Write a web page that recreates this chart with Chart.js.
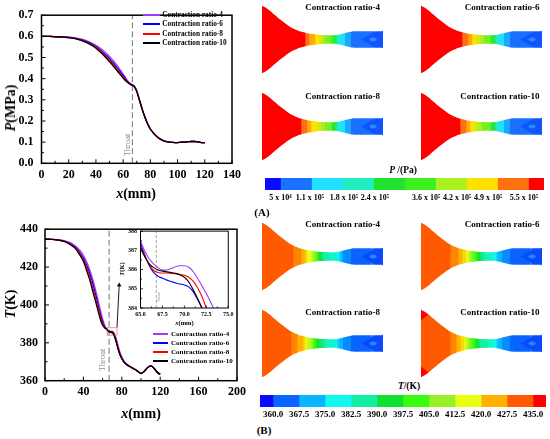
<!DOCTYPE html>
<html><head><meta charset="utf-8">
<script src="https://cdn.jsdelivr.net/npm/chart.js@4.4.0/dist/chart.umd.min.js"></script>
<style>
html,body{margin:0;padding:0;background:#fff;}
#stage{position:relative;width:550px;height:439px;overflow:hidden;background:#fff;font-family:'Liberation Serif','Times New Roman',serif;font-weight:bold;color:#000;}
#stage canvas{position:absolute;}
.t{position:absolute;white-space:nowrap;line-height:1;}
</style></head><body><div id="stage"></div>
<script>
// ---------------- data ----------------
const SERIES_LABELS = ['Contraction ratio-4','Contraction ratio-6','Contraction ratio-8','Contraction ratio-10'];
const SERIES_COLORS = ['#9a3ef5','#0000ff','#ff0000','#000000'];
const THROAT_X = 66.8;

const X_MM = [0,2,4,6,8,10,12,14,16,18,20,22,24,26,28,30,32,34,36,38,40,42,44,46,48,50,52,54,56,58,60,62,64,66,68,70,72,74,76,78,80,82,84,86,88,90,92,94,96,98,100,102,104,106,108,110,112,114,116,118,120];

const P_CR4 = [0.600,0.600,0.600,0.600,0.600,0.599,0.599,0.598,0.598,0.597,
  0.596,0.595,0.593,0.591,0.589,0.586,0.582,0.577,0.572,0.565,
  0.558,0.550,0.540,0.530,0.518,0.505,0.491,0.476,0.459,0.441,
  0.422,0.402,0.385,0.373,0.365,0.342,0.300,0.257,0.220,0.188,
  0.162,0.145,0.131,0.120,0.112,0.106,0.102,0.100,0.099,0.098,
  0.098,0.099,0.100,0.101,0.102,0.103,0.103,0.102,0.100,0.098,0.097];
const P_CR6 = [0.600,0.600,0.600,0.600,0.599,0.599,0.598,0.598,0.597,0.596,
  0.595,0.594,0.592,0.589,0.586,0.583,0.578,0.573,0.567,0.560,
  0.552,0.543,0.532,0.520,0.508,0.494,0.480,0.465,0.449,0.432,
  0.415,0.398,0.382,0.372,0.364,0.341,0.299,0.256,0.219,0.187,
  0.162,0.145,0.131,0.120,0.112,0.106,0.102,0.100,0.099,0.098,
  0.098,0.099,0.100,0.101,0.102,0.103,0.103,0.102,0.100,0.098,0.097];
const P_CR8 = [0.600,0.600,0.600,0.600,0.599,0.598,0.598,0.597,0.596,0.595,
  0.594,0.593,0.591,0.588,0.585,0.581,0.576,0.571,0.564,0.557,
  0.548,0.538,0.527,0.514,0.501,0.487,0.472,0.457,0.441,0.425,
  0.409,0.394,0.380,0.371,0.364,0.340,0.298,0.255,0.218,0.186,
  0.162,0.145,0.131,0.120,0.112,0.106,0.102,0.100,0.099,0.098,
  0.098,0.099,0.100,0.101,0.102,0.103,0.103,0.102,0.100,0.098,0.097];
const P_CR10 = [0.600,0.600,0.600,0.600,0.599,0.598,0.597,0.597,0.596,0.595,
  0.594,0.592,0.590,0.587,0.583,0.579,0.574,0.568,0.561,0.553,
  0.544,0.533,0.521,0.508,0.494,0.480,0.465,0.450,0.434,0.418,
  0.403,0.389,0.378,0.371,0.364,0.340,0.298,0.255,0.218,0.186,
  0.162,0.145,0.131,0.120,0.112,0.106,0.102,0.100,0.099,0.098,
  0.098,0.099,0.100,0.101,0.102,0.103,0.103,0.102,0.100,0.098,0.097];

const T_CR4 = [434.7,434.7,434.7,434.7,434.6,434.6,434.5,434.4,434.3,434.1,
  433.9,433.6,433.3,432.9,432.4,431.8,431.0,430.1,429.0,427.7,
  426.1,424.3,422.0,419.4,416.4,413.1,409.3,405.2,400.9,396.6,
  392.6,389.4,387.5,386.5,386.0,386.2,385.2,382.6,378.8,375.2,
  372.6,370.7,369.4,368.5,367.8,367.2,366.5,365.9,365.2,364.4,
  363.9,364.3,365.3,366.5,367.4,367.8,367.4,366.3,365.0,364.0,363.4];
const T_CR6 = [434.7,434.7,434.7,434.6,434.6,434.5,434.4,434.3,434.1,433.9,
  433.7,433.4,432.9,432.4,431.8,431.1,430.3,429.2,427.9,426.4,
  424.7,422.7,420.3,417.5,414.4,410.9,407.0,402.8,398.6,394.6,
  391.1,388.6,387.3,386.0,385.45,385.2,384.0,380.9,377.2,374.0,
  371.7,370.1,369.0,368.2,367.6,367.0,366.4,365.9,365.2,364.4,
  363.9,364.3,365.3,366.5,367.4,367.8,367.4,366.3,365.0,364.0,363.4];
const T_CR8 = [434.7,434.7,434.7,434.6,434.6,434.5,434.4,434.3,434.1,433.9,
  433.6,433.2,432.8,432.2,431.6,430.9,430.0,428.8,427.4,425.8,
  423.9,421.6,418.8,415.9,412.6,408.8,404.9,401.0,397.2,393.4,
  390.3,388.3,387.3,386.2,385.8,385.7,384.6,381.3,377.5,374.2,
  371.9,370.2,369.0,368.2,367.6,367.0,366.4,365.9,365.2,364.4,
  363.9,364.3,365.3,366.5,367.4,367.8,367.4,366.3,365.0,364.0,363.4];
const T_CR10 = [434.7,434.7,434.7,434.6,434.6,434.5,434.4,434.2,434.0,433.8,
  433.5,433.1,432.6,432.0,431.3,430.6,429.6,428.2,426.6,424.9,
  423.0,420.3,417.2,414.2,410.7,406.6,403.1,399.3,395.4,391.8,
  389.3,388.0,387.4,386.3,385.9,385.6,384.0,380.8,377.0,373.8,
  371.6,370.0,368.9,368.1,367.5,367.0,366.4,365.9,365.2,364.4,
  363.9,364.3,365.3,366.5,367.4,367.8,367.4,366.3,365.0,364.0,363.4];

const INSET_X = [65,65.5,66,66.5,67,67.5,68,68.5,69,69.5,70,70.5,71,71.5,72,72.5,73,73.5,74,74.5,75];
const INSET_T_CR4 = [387.50,386.95,386.55,386.30,386.10,385.97,385.98,386.05,386.15,386.20,386.20,386.12,385.90,385.55,385.15,384.75,384.30,383.80,383.20,382.50,381.80];
const INSET_T_CR6 = [387.35,386.75,386.20,385.85,385.65,385.55,385.45,385.38,385.30,385.25,385.20,385.10,384.85,384.45,384.00,383.40,382.80,382.00,381.20,380.40,379.60];
const INSET_T_CR8 = [387.20,386.70,386.25,385.95,385.85,385.82,385.82,385.80,385.78,385.75,385.70,385.60,385.40,385.05,384.60,384.00,383.40,382.70,382.00,381.20,380.40];
const INSET_T_CR10 = [387.10,386.65,386.30,386.10,385.98,385.92,385.88,385.85,385.80,385.72,385.60,385.35,384.95,384.50,384.00,383.50,382.90,382.20,381.50,380.80,380.00];

const P_X_TICKS = [0,20,40,60,80,100,120,140];
const P_Y_TICKS = [0,0.1,0.2,0.3,0.4,0.5,0.6,0.7];
const T_X_TICKS = [0,40,80,120,160,200];
const T_Y_TICKS = [360,380,400,420,440];
const INSET_X_TICKS = [65,67.5,70,72.5,75];
const INSET_Y_TICKS = [384,385,386,387,388];

// nozzle wall half-height (mm) at X_MM
const NOZZLE_HALF_HEIGHT = [33.3,32.3,31.0,29.6,27.9,26.1,24.5,22.8,21.0,19.4,
  17.9,16.4,14.9,13.6,12.3,11.2,10.2,9.4,8.6,7.9,
  7.4,6.9,6.4,6.0,5.7,5.4,5.2,5.0,4.8,4.6,
  4.5,4.4,4.3,4.2,4.2,4.2,4.3,4.5,4.8,5.2,
  5.7,6.2,6.8,7.3,7.7,8.0,8.2,8.3,8.3,8.3,
  8.3,8.3,8.3,8.3,8.3,8.3,8.3,8.3,8.3,8.3,8.3];
const OUTLET_CORE_X = [99,114,121,121,114,99];
const OUTLET_CORE_Y = [0,8.4,8.4,-8.4,-8.4,0];
const OUTLET_EYE_X = [107,108.5,111,113.5,115,113.5,111,108.5,107];
const OUTLET_EYE_Y = [0,1.6,2.0,1.6,0,-1.6,-2.0,-1.6,0];
const INLET_CORNER_X = [-1,7,-1];
const INLET_CORNER_Y = [33.4,29.5,23];

// colour bars
const P_LEVELS = [0.05,0.11,0.18,0.24,0.30,0.36,0.42,0.49,0.55];
const P_COLORS = ['#0a0aff','#1a70ff','#1ee0ff','#20f0c0','#20e030','#3cf020','#a8f020','#ffe000','#ff7010','#ff0000'];
const P_TICK_LABELS = ['5 x 10⁴','1.1 x 10⁵','1.8 x 10⁵','2.4 x 10⁵','3.6 x 10⁵','4.2 x 10⁵','4.9 x 10⁵','5.5 x 10⁵'];
const P_TICK_AT = [0.5,1.45,2.55,3.55,5.2,6.2,7.2,8.35];
const T_LEVELS = [360,367.5,375,382.5,390,397.5,405,412.5,420,427.5,435];
const T_COLORS = ['#0a0aff','#0a64ff','#0ab4ff','#10f8f0','#10f0a0','#10e030','#38ff10','#98f028','#e8ff10','#ffb000','#ff5a00','#ff0000'];
const T_TICK_LABELS = ['360.0','367.5','375.0','382.5','390.0','397.5','405.0','412.5','420.0','427.5','435.0'];

// ---------------- helpers ----------------
const FONT = "'Liberation Serif','Times New Roman',serif";
Chart.defaults.font.family = FONT;
Chart.defaults.color = '#000';
const stage = document.getElementById('stage');

function mkCanvas(l, t, w, h) {
  const c = document.createElement('canvas');
  c.width = w; c.height = h;
  c.style.left = l + 'px'; c.style.top = t + 'px';
  c.style.width = w + 'px'; c.style.height = h + 'px';
  stage.appendChild(c);
  return c;
}
function label(html, x, y, o = {}) {
  const d = document.createElement('div');
  d.className = 't';
  d.innerHTML = html;
  d.style.fontSize = (o.size || 10) + 'px';
  d.style.left = x + 'px'; d.style.top = y + 'px';
  if (o.color) d.style.color = o.color;
  if (o.weight) d.style.fontWeight = o.weight;
  const tx = o.anchor === 'l' ? '0' : o.anchor === 'r' ? '-100%' : '-50%';
  d.style.transform = 'translate(' + tx + ',-50%)' + (o.rot ? ' rotate(' + o.rot + 'deg)' : '');
  stage.appendChild(d);
  return d;
}
function swatch(x1, x2, y, color) {
  const d = document.createElement('div');
  d.style.position = 'absolute';
  d.style.left = x1 + 'px'; d.style.top = (y - 1) + 'px';
  d.style.width = (x2 - x1) + 'px'; d.style.height = '2px';
  d.style.background = color;
  stage.appendChild(d);
}
function hexRgb(h) { return [parseInt(h.substr(1,2),16), parseInt(h.substr(3,2),16), parseInt(h.substr(5,2),16)]; }
function mix(a, b) { const A = hexRgb(a), B = hexRgb(b); return 'rgb(' + A.map((v,i)=>Math.round((v+B[i])/2)).join(',') + ')'; }
function levelColor(v, levels, colors) {
  const n = levels.length;
  let q;
  if (v < levels[0]) q = 0;
  else if (v >= levels[n-1]) q = n;
  else {
    let k = 0;
    while (v >= levels[k+1]) k++;
    const f = k + 0.5 + (v - levels[k]) / (levels[k+1] - levels[k]);
    q = Math.floor(f * 2) / 2;
  }
  if (Number.isInteger(q)) return colors[q];
  return mix(colors[Math.floor(q)], colors[Math.ceil(q)]);
}
const pts = (xs, ys) => xs.map((x, i) => ({x, y: ys[i]}));
const tickFont = (s) => ({family: FONT, weight: 'bold', size: s});

const frameTicks = {
  id: 'frameTicks',
  afterDraw(chart, args, o) {
    const {ctx, chartArea: a} = chart;
    const xs = chart.scales.x, ys = chart.scales.y;
    const xt = xs.ticks.map(t => t.value), yt = ys.ticks.map(t => t.value);
    ctx.save();
    ctx.strokeStyle = '#000';
    ctx.lineWidth = o.tickWidth;
    ctx.beginPath();
    xt.forEach((v, i) => {
      const p = xs.getPixelForValue(v);
      ctx.moveTo(p, a.bottom); ctx.lineTo(p, a.bottom - o.major);
      if (i < xt.length - 1) {
        const m = xs.getPixelForValue((v + xt[i+1]) / 2);
        ctx.moveTo(m, a.bottom); ctx.lineTo(m, a.bottom - o.minor);
      }
    });
    yt.forEach((v, i) => {
      const p = ys.getPixelForValue(v);
      ctx.moveTo(a.left, p); ctx.lineTo(a.left + o.major, p);
      if (i < yt.length - 1) {
        const m = ys.getPixelForValue((v + yt[i+1]) / 2);
        ctx.moveTo(a.left, m); ctx.lineTo(a.left + o.minor, m);
      }
    });
    ctx.stroke();
    ctx.lineWidth = o.frameWidth;
    ctx.strokeRect(a.left, a.top, a.right - a.left, a.bottom - a.top);
    ctx.restore();
  }
};
const whiteArea = {
  id: 'whiteArea',
  beforeDraw(chart) {
    const {ctx, chartArea: a} = chart;
    ctx.save(); ctx.fillStyle = '#fff';
    ctx.fillRect(a.left, a.top, a.right - a.left, a.bottom - a.top);
    ctx.restore();
  }
};

function lineChart(cfg) {
  const cv = mkCanvas(cfg.left, cfg.top, cfg.w, cfg.h);
  const ds = cfg.series.map((s, i) => ({
    type: 'line', data: pts(cfg.x, s), borderColor: SERIES_COLORS[i], borderWidth: cfg.lw,
    pointRadius: 0, cubicInterpolationMode: 'monotone', fill: false, order: 3 - i
  }));
  ds.push({type: 'line', data: [{x: THROAT_X, y: cfg.ymin}, {x: THROAT_X, y: cfg.ymax}],
    borderColor: '#808080', borderWidth: cfg.dashW, borderDash: cfg.dash, pointRadius: 0, order: 10});
  (cfg.extra || []).forEach(e => ds.push(e));
  return new Chart(cv, {
    type: 'line',
    data: {datasets: ds},
    options: {
      responsive: false, animation: false, events: [],
      layout: {padding: {top: cfg.padTop, right: cfg.padRight, left: 0, bottom: 0}},
      plugins: {legend: {display: false}, tooltip: {enabled: false}, frameTicks: cfg.frame},
      scales: {
        x: {type: 'linear', min: cfg.xmin, max: cfg.xmax,
            grid: {display: false, drawTicks: false}, border: {display: false},
            afterBuildTicks: s => { s.ticks = cfg.xticks.map(v => ({value: v})); },
            ticks: {font: tickFont(cfg.fs), color: '#000', padding: cfg.xpad, autoSkip: false, maxRotation: 0,
                    callback: v => cfg.xfmt(v)},
            afterFit: s => { s.height = cfg.xh; }},
        y: {type: 'linear', min: cfg.ymin, max: cfg.ymax,
            grid: {display: false, drawTicks: false}, border: {display: false},
            afterBuildTicks: s => { s.ticks = cfg.yticks.map(v => ({value: v})); },
            ticks: {font: tickFont(cfg.fs), color: '#000', padding: cfg.ypad, autoSkip: false,
                    callback: v => cfg.yfmt(v)},
            afterFit: s => { s.width = cfg.yw; }}
      }
    },
    plugins: cfg.white ? [whiteArea, frameTicks] : [frameTicks]
  });
}

// ---------------- left: pressure chart ----------------
lineChart({left: 0, top: 0, w: 246, h: 190, x: X_MM, series: [P_CR4, P_CR6, P_CR8, P_CR10],
  xmin: 0, xmax: 140, ymin: 0, ymax: 0.7, xticks: P_X_TICKS, yticks: P_Y_TICKS,
  xfmt: v => String(v), yfmt: v => v.toFixed(1), fs: 12, xpad: 4, ypad: 8,
  padTop: 7.5, padRight: 14, xh: 26.7, yw: 41.5, lw: 1.3, dash: [6, 3], dashW: 1.1,
  frame: {major: 4, minor: 2.5, tickWidth: 1, frameWidth: 1.5}});

label('<i>P</i>(MPa)', 11, 108, {size: 14, rot: -90});
label('<i>x</i>(mm)', 136, 194, {size: 14});
label('Throat', 126.5, 145, {size: 8.5, rot: -90, color: '#8c8c8c', weight: 'normal'});
[15, 24.4, 33.8, 43.2].forEach((y, i) => {
  swatch(143, 160, y, SERIES_COLORS[i]);
  label(SERIES_LABELS[i], 162.3, y, {size: 7.3, anchor: 'l'});
});

// ---------------- left: temperature chart ----------------
lineChart({left: 0, top: 215, w: 250, h: 190, x: X_MM, series: [T_CR4, T_CR6, T_CR8, T_CR10],
  xmin: 0, xmax: 200, ymin: 360, ymax: 440, xticks: T_X_TICKS, yticks: T_Y_TICKS,
  xfmt: v => String(v), yfmt: v => String(v), fs: 12, xpad: 4, ypad: 7,
  padTop: 10.7, padRight: 11.5, xh: 24.3, yw: 45, lw: 1.3, dash: [6, 3], dashW: 1.1,
  frame: {major: 4, minor: 2.5, tickWidth: 1, frameWidth: 1.5},
  extra: [
    {type: 'line', data: [{x:65,y:384},{x:75,y:384},{x:75,y:388},{x:65,y:388},{x:65,y:384}],
     borderColor: '#f09090', borderWidth: 1, pointRadius: 0, tension: 0, order: 0},
    {type: 'line', data: [{x:75,y:388},{x:77.3,y:410.5}], borderColor: '#000', borderWidth: 0.9,
     pointRadius: [0, 2.6], pointStyle: 'triangle', pointRotation: 3.4,
     pointBackgroundColor: '#000', pointBorderWidth: 0, tension: 0, order: 0}
  ]});

label('<i>T</i>(K)', 11, 304, {size: 14, rot: -90});
label('<i>x</i>(mm)', 141, 414, {size: 14});
label('Throat', 101.5, 360, {size: 8.5, rot: -90, color: '#8c8c8c', weight: 'normal'});
[334, 343.1, 352.2, 361.3].forEach((y, i) => {
  swatch(153, 168, y, SERIES_COLORS[i]);
  label(SERIES_LABELS[i], 171, y, {size: 7, anchor: 'l'});
});

// inset
lineChart({left: 110, top: 224, w: 126, h: 100, x: INSET_X,
  series: [INSET_T_CR4, INSET_T_CR6, INSET_T_CR8, INSET_T_CR10],
  xmin: 65, xmax: 75, ymin: 384, ymax: 388, xticks: INSET_X_TICKS, yticks: INSET_Y_TICKS,
  xfmt: v => v.toFixed(1), yfmt: v => String(v), fs: 6, xpad: 2.5, ypad: 3.5,
  padTop: 6, padRight: 7, xh: 16, yw: 30.5, lw: 1.1, dash: [3, 2], dashW: 0.7, white: true,
  frame: {major: 2.5, minor: 1.5, tickWidth: 0.8, frameWidth: 1}});
label('<i>x</i>(mm)', 184.5, 323, {size: 6.5});
label('<i>T</i>(K)', 122, 269, {size: 6.5, rot: -90});
label('Throat', 160.3, 297, {size: 3.6, rot: -90, color: '#8c8c8c', weight: 'normal'});

// ---------------- right: contour panels ----------------
function contour(left, top, values, levels, colors, extras) {
  const cv = mkCanvas(left, top, 121, 67);
  const R = NOZZLE_HALF_HEIGHT;
  // columns reach the taller neighbour so the smooth wall mask can trim them
  const reach = R.map((r, i) => Math.max(r, R[i-1] || r, R[i+1] || r));
  const ds = [{
    type: 'bar',
    data: X_MM.map((x, i) => ({x, y: [-reach[i], reach[i]]})),
    backgroundColor: values.map(v => levelColor(v, levels, colors)),
    borderWidth: 0, barPercentage: 1, categoryPercentage: 1, order: 9
  }];
  extras.forEach((e, j) => ds.push({
    type: 'line', data: pts(e.x, e.y), fill: 'shape', backgroundColor: e.color,
    borderWidth: 0, pointRadius: 0, tension: 0, order: 5 - j
  }));
  // smooth nozzle wall: white outside the wall
  ds.push({type: 'line', data: pts(X_MM, R), fill: 'end', backgroundColor: '#fff',
    borderWidth: 0, pointRadius: 0, cubicInterpolationMode: 'monotone', order: 0});
  ds.push({type: 'line', data: pts(X_MM, R.map(v => -v)), fill: 'start', backgroundColor: '#fff',
    borderWidth: 0, pointRadius: 0, cubicInterpolationMode: 'monotone', order: 0});
  new Chart(cv, {
    type: 'bar',
    data: {datasets: ds},
    options: {
      responsive: false, animation: false, events: [],
      layout: {padding: 0},
      plugins: {legend: {display: false}, tooltip: {enabled: false}},
      scales: {
        x: {type: 'linear', min: -1, max: 121, offset: false, display: false},
        y: {type: 'linear', min: -33.5, max: 33.5, display: false}
      }
    }
  });
}
const core = (c) => ({x: OUTLET_CORE_X, y: OUTLET_CORE_Y, color: c});
const eye = (c) => ({x: OUTLET_EYE_X, y: OUTLET_EYE_Y, color: c});
const cornerTop = {x: INLET_CORNER_X, y: INLET_CORNER_Y, color: '#ff0000'};
const cornerBot = {x: INLET_CORNER_X, y: INLET_CORNER_Y.map(v => -v), color: '#ff0000'};

contour(262, 6, P_CR4, P_LEVELS, P_COLORS, [core('#1054ff'), eye('#2a8cff')]);
contour(421, 6, P_CR6, P_LEVELS, P_COLORS, [core('#1054ff'), eye('#2a8cff')]);
contour(262, 93, P_CR8, P_LEVELS, P_COLORS, [core('#1054ff'), eye('#2a8cff')]);
contour(421, 93, P_CR10, P_LEVELS, P_COLORS, [core('#1054ff'), eye('#2a8cff')]);
contour(262, 223, T_CR4, T_LEVELS, T_COLORS, [core('#0a4aff'), eye('#2a84ff')]);
contour(421, 223, T_CR6, T_LEVELS, T_COLORS, [core('#0a4aff'), eye('#2a84ff')]);
contour(262, 310, T_CR8, T_LEVELS, T_COLORS, [core('#0a4aff'), eye('#2a84ff')]);
contour(421, 310, T_CR10, T_LEVELS, T_COLORS, [core('#0a4aff'), eye('#2a84ff'), cornerTop, cornerBot]);

label(SERIES_LABELS[0], 380, 7.3, {size: 9, anchor: 'r'});
label(SERIES_LABELS[1], 539.5, 7.3, {size: 9, anchor: 'r'});
label(SERIES_LABELS[2], 380, 95.7, {size: 9, anchor: 'r'});
label(SERIES_LABELS[3], 539.5, 95.7, {size: 9, anchor: 'r'});
label(SERIES_LABELS[0], 380, 224.3, {size: 9, anchor: 'r'});
label(SERIES_LABELS[1], 539.5, 224.3, {size: 9, anchor: 'r'});
label(SERIES_LABELS[2], 380, 311.7, {size: 9, anchor: 'r'});
label(SERIES_LABELS[3], 539.5, 311.7, {size: 9, anchor: 'r'});

// ---------------- colour bars ----------------
function colorbar(left, top, width, colors, tickAt, tickLabels, fs, pad) {
  const n = colors.length - 1;
  const cv = mkCanvas(left, top, width, 27);
  new Chart(cv, {
    type: 'bar',
    data: {labels: ['bar'], datasets: colors.map((c, k) => ({
      data: [[k === 0 ? 0 : k - 0.5, k === n ? n : k + 0.5]], backgroundColor: c,
      borderWidth: 0, barPercentage: 1, categoryPercentage: 1, grouped: false}))},
    options: {
      indexAxis: 'y', responsive: false, animation: false, events: [],
      layout: {padding: 0},
      plugins: {legend: {display: false}, tooltip: {enabled: false}},
      scales: {
        x: {type: 'linear', min: 0, max: n, grid: {display: false, drawTicks: false}, border: {display: false},
            afterBuildTicks: s => { s.ticks = tickAt.map(v => ({value: v})); },
            ticks: {autoSkip: false, maxRotation: 0, minRotation: 0, padding: pad, color: '#000',
                    font: tickFont(fs), callback: (v, i) => tickLabels[i]},
            afterFit: s => { s.height = 15; }},
        y: {display: false}
      }
    }
  });
}
colorbar(265, 178, 279, P_COLORS, P_TICK_AT, P_TICK_LABELS, 8, 3);
colorbar(260, 395, 286, T_COLORS, T_TICK_LABELS.map((_, k) => k + 0.5), T_TICK_LABELS, 9, 2);

label('<i>P</i> /(Pa)', 403, 171, {size: 9.5});
label('<i>T</i>/(K)', 409, 386.7, {size: 9.5});
label('(A)', 262, 212, {size: 11});
label('(B)', 264, 430, {size: 11});
</script></body></html>
